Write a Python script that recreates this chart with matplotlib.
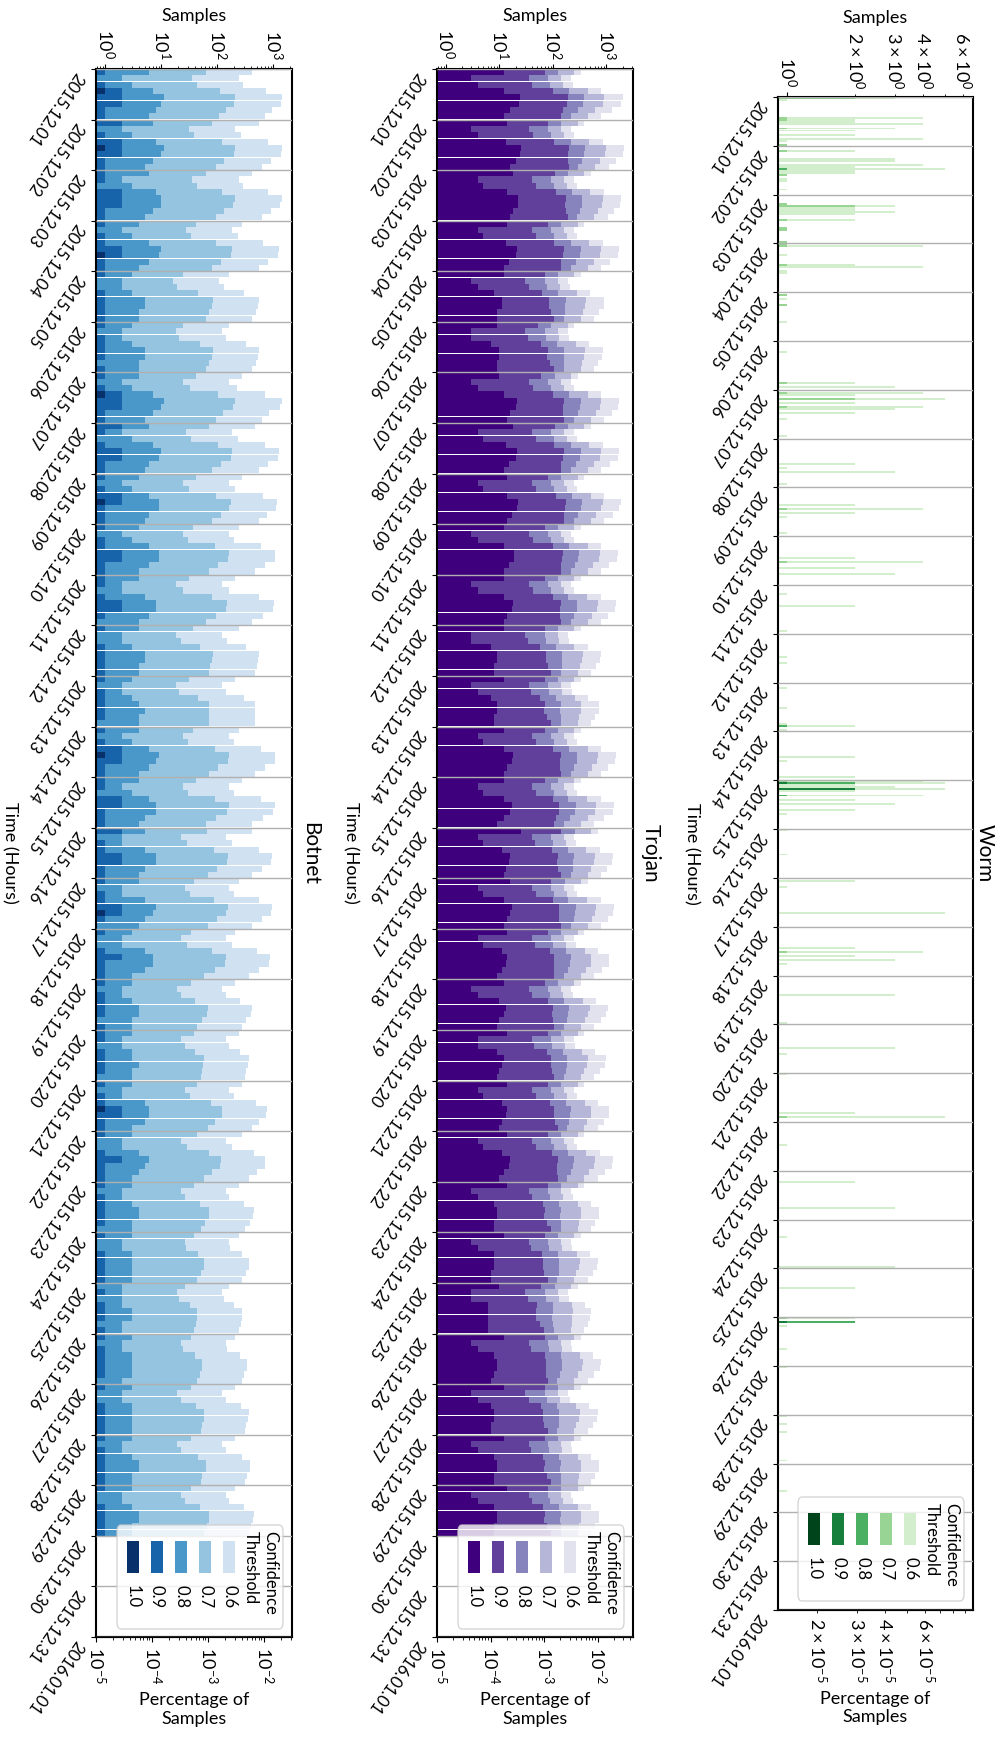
import numpy as np
import matplotlib.pyplot as plt
from matplotlib.patches import Rectangle, FancyBboxPatch
from matplotlib.ticker import LogLocator, NullFormatter

plt.rcParams['font.family'] = ['Lato', 'DejaVu Sans']
plt.rcParams['mathtext.fontset'] = 'dejavusans'
plt.rcParams['font.size'] = 12

W, H = 996, 1742

day_labels = ['2015.12.%02d' % d for d in range(1, 32)] + ['2016.01.01']
thresholds = ['0.6', '0.7', '0.8', '0.9', '1.0']
bin_hours = 3          # botnet / trojan counts are binned per 3 hours
total_samples = 68000  # denominator of the percentage axis

# ---- Botnet, samples per hour (one row per day, 8 bins of 3 h) ----
botnet_06 = [
    417, 240, 290, 750, 1420, 1350, 950, 720,
    550, 210, 260, 800, 1420, 1350, 900, 630,
    417, 240, 290, 800, 1420, 1300, 900, 630,
    275, 183, 230, 650, 1250, 1200, 800, 550,
    160, 105, 130, 300, 550, 530, 480, 417,
    160, 120, 140, 320, 550, 540, 480, 417,
    275, 160, 220, 700, 1420, 1300, 850, 630,
    479, 183, 230, 700, 1250, 1200, 800, 550,
    275, 160, 210, 650, 1170, 1100, 780, 550,
    240, 160, 200, 600, 1090, 1050, 700, 479,
    210, 120, 160, 550, 1020, 980, 650, 417,
    240, 120, 150, 320, 550, 530, 500, 479,
    210, 120, 140, 300, 479, 479, 479, 479,
    240, 160, 200, 600, 1090, 1050, 700, 479,
    275, 160, 200, 600, 1090, 1000, 650, 417,
    417, 140, 180, 550, 950, 920, 620, 417,
    240, 160, 200, 550, 950, 900, 620, 417,
    210, 140, 180, 500, 880, 850, 560, 363,
    210, 120, 140, 250, 417, 400, 330, 275,
    240, 140, 160, 250, 363, 350, 330, 315,
    275, 160, 200, 480, 770, 750, 560, 417,
    275, 140, 180, 450, 720, 700, 500, 363,
    240, 140, 160, 300, 445, 440, 380, 315,
    240, 160, 170, 280, 363, 360, 320, 275,
    160, 120, 130, 200, 275, 270, 260, 240,
    210, 140, 150, 250, 340, 335, 300, 275,
    210, 120, 140, 260, 363, 355, 330, 315,
    210, 120, 140, 280, 390, 385, 340, 315,
    210, 140, 160, 300, 445, 440, 400, 363,
]
botnet_07 = [
    62, 35, 43, 112, 210, 200, 140, 105,
    80, 31, 39, 120, 210, 200, 133, 93,
    62, 35, 43, 120, 210, 193, 133, 93,
    41, 27, 34, 96, 185, 178, 118, 81,
    24, 16, 19, 45, 82, 79, 71, 62,
    24, 18, 21, 48, 82, 80, 71, 62,
    41, 24, 33, 104, 210, 193, 126, 93,
    71, 27, 34, 104, 185, 178, 118, 81,
    41, 24, 31, 96, 173, 163, 115, 81,
    36, 24, 30, 89, 161, 155, 104, 71,
    31, 18, 24, 81, 151, 145, 96, 62,
    36, 18, 22, 48, 82, 79, 74, 71,
    31, 18, 21, 45, 71, 71, 71, 71,
    36, 24, 30, 89, 161, 155, 104, 71,
    41, 24, 30, 89, 161, 148, 96, 62,
    66, 22, 29, 88, 152, 147, 99, 67,
    38, 26, 32, 88, 152, 144, 99, 67,
    34, 22, 29, 80, 141, 136, 90, 58,
    34, 19, 22, 40, 67, 64, 53, 44,
    38, 22, 26, 40, 58, 56, 53, 50,
    44, 26, 32, 77, 123, 120, 90, 67,
    44, 22, 29, 72, 115, 112, 80, 58,
    38, 22, 26, 48, 71, 70, 61, 50,
    38, 26, 27, 45, 58, 58, 51, 44,
    26, 19, 21, 32, 44, 43, 42, 38,
    34, 22, 24, 40, 54, 54, 48, 44,
    34, 19, 22, 42, 58, 57, 53, 50,
    34, 19, 22, 45, 62, 62, 54, 50,
    34, 22, 26, 48, 71, 70, 64, 58,
]
botnet_08 = [
    6, 2, 3, 7, 11, 10, 8, 6,
    7, 2, 3, 8, 11, 10, 7, 5,
    6, 2, 3, 8, 10, 10, 7, 5,
    4, 2, 3, 6, 10, 9, 6, 4,
    3, 2, 2, 3, 5, 5, 4, 4,
    3, 2, 2, 3, 5, 5, 4, 4,
    4, 2, 3, 7, 11, 10, 7, 5,
    6, 2, 3, 7, 10, 9, 6, 5,
    4, 2, 3, 6, 9, 9, 6, 5,
    4, 2, 3, 6, 9, 9, 6, 4,
    4, 2, 2, 5, 8, 8, 6, 4,
    4, 2, 2, 3, 5, 5, 4, 4,
    3, 2, 2, 3, 4, 5, 4, 4,
    4, 2, 3, 6, 9, 8, 6, 4,
    4, 2, 3, 6, 8, 8, 5, 4,
    5, 2, 2, 5, 8, 8, 5, 4,
    4, 2, 2, 5, 8, 7, 5, 4,
    3, 2, 2, 5, 7, 7, 5, 3,
    3, 2, 2, 3, 4, 4, 3, 3,
    3, 2, 2, 3, 3, 4, 3, 3,
    3, 2, 2, 5, 6, 6, 5, 3,
    3, 2, 2, 4, 6, 5, 4, 3,
    3, 2, 2, 3, 4, 4, 3, 3,
    3, 2, 2, 3, 3, 3, 3, 3,
    2, 2, 2, 2, 3, 3, 2, 2,
    3, 2, 2, 3, 3, 3, 3, 2,
    3, 2, 2, 3, 3, 3, 3, 3,
    3, 2, 2, 3, 4, 4, 3, 3,
    3, 2, 2, 3, 4, 4, 3, 3,
]
botnet_09 = [
    1, 0, 1, 2, 2, 2, 1, 1,
    2, 0, 1, 2, 2, 2, 1, 1,
    1, 1, 0, 2, 2, 2, 1, 1,
    1, 0, 1, 1, 2, 2, 1, 1,
    1, 0, 0, 1, 1, 1, 1, 1,
    1, 0, 1, 1, 1, 1, 0, 1,
    1, 0, 1, 2, 2, 2, 1, 1,
    2, 1, 0, 1, 2, 2, 1, 1,
    1, 0, 1, 2, 2, 1, 1, 1,
    1, 0, 1, 1, 2, 2, 1, 1,
    1, 1, 0, 1, 2, 2, 1, 0,
    1, 0, 0, 1, 1, 1, 1, 1,
    1, 0, 1, 1, 1, 1, 1, 0,
    1, 0, 1, 2, 2, 2, 1, 1,
    1, 1, 0, 2, 2, 1, 1, 1,
    2, 0, 1, 1, 2, 2, 1, 1,
    1, 0, 1, 1, 2, 2, 1, 0,
    1, 0, 0, 1, 2, 1, 1, 1,
    1, 0, 1, 1, 1, 1, 0, 1,
    1, 1, 0, 1, 1, 1, 1, 0,
    1, 0, 1, 1, 2, 2, 1, 1,
    1, 0, 0, 1, 2, 1, 1, 1,
    1, 0, 1, 1, 1, 1, 1, 0,
    1, 0, 0, 1, 1, 1, 1, 1,
    0, 1, 0, 1, 1, 1, 0, 1,
    1, 0, 1, 1, 1, 1, 1, 0,
    1, 0, 0, 1, 1, 1, 1, 1,
    1, 0, 1, 1, 1, 1, 1, 1,
    1, 0, 0, 1, 1, 1, 1, 1,
]
botnet_10 = [
    0, 0, 0, 1, 0, 0, 0, 0,
    0, 0, 0, 0, 1, 0, 0, 0,
    0, 0, 0, 0, 0, 0, 0, 0,
    0, 0, 0, 0, 0, 1, 0, 0,
    0, 0, 0, 0, 0, 0, 0, 0,
    0, 0, 0, 0, 0, 0, 0, 0,
    0, 0, 0, 1, 0, 0, 0, 0,
    0, 0, 0, 0, 0, 0, 0, 0,
    0, 0, 0, 0, 1, 0, 0, 0,
    0, 0, 0, 0, 0, 0, 0, 0,
    0, 0, 0, 0, 0, 0, 0, 0,
    0, 0, 0, 0, 0, 0, 0, 0,
    0, 0, 0, 0, 0, 0, 0, 0,
    0, 0, 0, 0, 1, 0, 0, 0,
    0, 0, 0, 0, 0, 0, 0, 0,
    0, 0, 0, 0, 0, 0, 0, 0,
    0, 0, 0, 0, 0, 1, 0, 0,
    0, 0, 0, 0, 0, 0, 0, 0,
    0, 0, 0, 0, 0, 0, 0, 0,
    0, 0, 0, 0, 0, 0, 0, 0,
    0, 0, 0, 0, 1, 0, 0, 0,
    0, 0, 0, 0, 0, 0, 0, 0,
    0, 0, 0, 0, 0, 0, 0, 0,
    0, 0, 0, 0, 0, 0, 0, 0,
    0, 0, 0, 0, 0, 0, 0, 0,
    0, 0, 0, 0, 0, 0, 0, 0,
    0, 0, 0, 0, 0, 0, 0, 0,
    0, 0, 0, 0, 0, 0, 0, 0,
    0, 0, 0, 0, 0, 0, 0, 0,
]

# ---- Trojan ----
trojan_06 = [
    333, 217, 240, 800, 2000, 1900, 1250, 790,
    386, 217, 250, 850, 2100, 2000, 1500, 1100,
    514, 251, 280, 900, 1860, 1800, 1400, 1050,
    386, 251, 280, 850, 1740, 1650, 1150, 790,
    333, 188, 210, 500, 910, 880, 730, 590,
    251, 188, 200, 480, 850, 830, 700, 590,
    290, 217, 250, 800, 1740, 1650, 1250, 910,
    514, 251, 280, 850, 1740, 1650, 1150, 790,
    386, 251, 280, 900, 1860, 1750, 1300, 910,
    333, 217, 250, 800, 1620, 1550, 1130, 790,
    333, 217, 250, 780, 1500, 1450, 1090, 790,
    333, 188, 200, 450, 790, 770, 640, 514,
    333, 217, 230, 460, 740, 720, 620, 514,
    333, 251, 280, 800, 1500, 1450, 1090, 790,
    333, 251, 280, 780, 1400, 1350, 910, 590,
    688, 251, 270, 750, 1300, 1250, 1010, 790,
    445, 251, 280, 780, 1400, 1350, 1050, 790,
    386, 251, 270, 700, 1130, 1100, 820, 590,
    333, 217, 240, 650, 1050, 1000, 790, 590,
    386, 251, 260, 620, 980, 950, 760, 590,
    386, 251, 280, 700, 1130, 1100, 880, 688,
    386, 251, 280, 750, 1300, 1250, 950, 688,
    386, 217, 240, 520, 740, 720, 620, 514,
    333, 217, 230, 500, 688, 670, 550, 445,
    290, 188, 200, 400, 514, 500, 445, 386,
    333, 217, 230, 560, 790, 770, 590, 445,
    333, 188, 210, 480, 688, 670, 550, 445,
    333, 217, 230, 520, 740, 720, 620, 514,
    386, 217, 240, 520, 740, 720, 620, 514,
]
trojan_07 = [
    251, 140, 155, 450, 910, 870, 620, 445,
    290, 140, 160, 480, 970, 920, 750, 620,
    385, 163, 180, 500, 860, 830, 700, 590,
    290, 163, 180, 480, 800, 760, 575, 445,
    250, 122, 136, 280, 420, 405, 365, 330,
    188, 122, 130, 270, 390, 380, 350, 330,
    218, 141, 162, 450, 800, 760, 625, 510,
    385, 163, 182, 476, 800, 760, 575, 445,
    290, 163, 182, 504, 855, 805, 650, 510,
    250, 141, 162, 448, 745, 713, 565, 445,
    250, 141, 162, 437, 690, 667, 545, 445,
    250, 122, 130, 252, 363, 354, 320, 288,
    250, 141, 150, 258, 340, 331, 310, 288,
    250, 163, 182, 448, 690, 667, 545, 445,
    250, 163, 182, 437, 644, 621, 455, 330,
    516, 163, 175, 420, 598, 575, 505, 445,
    334, 163, 182, 437, 644, 621, 525, 445,
    290, 163, 175, 392, 520, 506, 410, 330,
    250, 141, 156, 364, 483, 460, 395, 330,
    290, 163, 169, 347, 451, 437, 380, 330,
    290, 163, 182, 392, 520, 506, 440, 385,
    290, 163, 182, 420, 598, 575, 475, 385,
    290, 141, 156, 291, 340, 331, 310, 288,
    250, 141, 150, 280, 316, 308, 275, 250,
    218, 122, 130, 224, 236, 230, 222, 216,
    250, 141, 150, 314, 363, 354, 295, 250,
    250, 122, 137, 269, 316, 308, 275, 250,
    250, 141, 150, 291, 340, 331, 310, 288,
    290, 141, 156, 291, 340, 331, 310, 288,
]
trojan_08 = [
    123, 80, 89, 200, 380, 360, 288, 213,
    143, 80, 93, 213, 400, 380, 345, 297,
    190, 93, 104, 225, 353, 342, 322, 284,
    143, 93, 104, 213, 331, 314, 265, 213,
    123, 70, 78, 125, 173, 167, 168, 159,
    93, 70, 74, 120, 162, 158, 161, 159,
    107, 80, 93, 200, 331, 314, 288, 246,
    190, 93, 104, 213, 331, 314, 265, 213,
    143, 93, 104, 225, 353, 333, 299, 246,
    123, 80, 93, 200, 308, 295, 260, 213,
    123, 80, 93, 195, 285, 276, 251, 213,
    123, 70, 74, 113, 150, 146, 147, 139,
    123, 80, 85, 115, 141, 137, 143, 139,
    123, 93, 104, 200, 285, 276, 251, 213,
    123, 93, 104, 195, 266, 257, 209, 159,
    255, 93, 100, 188, 247, 238, 232, 213,
    165, 93, 104, 195, 266, 257, 242, 213,
    143, 93, 100, 175, 215, 209, 189, 159,
    123, 80, 89, 163, 200, 190, 182, 159,
    143, 93, 96, 155, 186, 181, 175, 159,
    143, 93, 104, 175, 215, 209, 202, 186,
    143, 93, 104, 188, 247, 238, 219, 186,
    143, 80, 89, 130, 141, 137, 143, 139,
    123, 80, 85, 125, 131, 127, 127, 120,
    107, 70, 74, 100, 98, 95, 102, 104,
    123, 80, 85, 140, 150, 146, 136, 120,
    123, 70, 78, 120, 131, 127, 127, 120,
    123, 80, 85, 130, 141, 137, 143, 139,
    143, 80, 89, 130, 141, 137, 143, 139,
]
trojan_09 = [
    70, 35, 41, 100, 188, 180, 156, 142,
    81, 35, 43, 106, 197, 190, 188, 198,
    108, 40, 48, 113, 175, 171, 175, 189,
    81, 40, 48, 106, 164, 157, 144, 142,
    70, 30, 36, 63, 86, 84, 91, 106,
    53, 30, 34, 60, 80, 79, 88, 106,
    61, 35, 43, 100, 164, 157, 156, 164,
    108, 40, 48, 106, 164, 157, 144, 142,
    81, 40, 48, 113, 175, 166, 163, 164,
    70, 35, 43, 100, 152, 147, 141, 142,
    70, 35, 43, 98, 141, 138, 136, 142,
    70, 30, 34, 56, 74, 73, 80, 93,
    70, 35, 39, 58, 70, 68, 78, 93,
    70, 40, 48, 100, 141, 138, 136, 142,
    70, 40, 48, 98, 132, 128, 114, 106,
    144, 40, 46, 94, 122, 119, 126, 142,
    93, 40, 48, 98, 132, 128, 131, 142,
    81, 40, 46, 88, 106, 105, 103, 106,
    70, 35, 41, 81, 99, 95, 99, 106,
    81, 40, 44, 78, 92, 90, 95, 106,
    81, 40, 48, 88, 106, 105, 110, 124,
    81, 40, 48, 94, 122, 119, 119, 124,
    81, 35, 41, 65, 70, 68, 78, 93,
    70, 35, 39, 63, 65, 64, 69, 80,
    61, 30, 34, 50, 48, 48, 56, 69,
    70, 35, 39, 70, 74, 73, 74, 80,
    70, 30, 36, 60, 65, 64, 69, 80,
    70, 35, 39, 65, 70, 68, 78, 93,
    81, 35, 41, 65, 70, 68, 78, 93,
]
trojan_10 = [
    12, 3, 4, 12, 24, 23, 16, 12,
    14, 3, 4, 13, 25, 24, 20, 16,
    18, 4, 5, 14, 22, 22, 18, 16,
    14, 4, 5, 13, 21, 20, 15, 12,
    12, 3, 4, 8, 11, 11, 9, 9,
    9, 3, 3, 7, 10, 10, 9, 9,
    10, 3, 4, 12, 21, 20, 16, 14,
    18, 4, 5, 13, 21, 20, 15, 12,
    14, 4, 5, 14, 22, 21, 17, 14,
    12, 3, 4, 12, 19, 19, 15, 12,
    12, 3, 4, 12, 18, 17, 14, 12,
    12, 3, 3, 7, 9, 9, 8, 8,
    12, 3, 4, 7, 9, 9, 8, 8,
    12, 4, 5, 12, 18, 17, 14, 12,
    12, 4, 5, 12, 17, 16, 12, 9,
    25, 4, 5, 11, 16, 15, 13, 12,
    16, 4, 5, 12, 17, 16, 14, 12,
    14, 4, 5, 11, 14, 13, 11, 9,
    12, 3, 4, 10, 13, 12, 10, 9,
    14, 4, 4, 9, 12, 11, 10, 9,
    14, 4, 5, 11, 14, 13, 11, 10,
    14, 4, 5, 11, 16, 15, 12, 10,
    14, 3, 4, 8, 9, 9, 8, 8,
    12, 3, 4, 8, 8, 8, 7, 7,
    10, 3, 3, 6, 6, 6, 6, 6,
    12, 3, 4, 8, 9, 9, 8, 7,
    12, 3, 4, 7, 8, 8, 7, 7,
    12, 3, 4, 8, 9, 9, 8, 8,
    14, 3, 4, 8, 9, 9, 8, 8,
]

# ---- Worm, sparse hourly counts (hour since 2015.12.01 00:00, count) ----
worm_hours_06 = [0, 1, 10, 11, 12, 13, 15, 16, 18, 20, 21, 23, 26, 30, 31, 33, 34, 35, 36, 37,
                 38, 40, 41, 45, 52, 53, 54, 55, 56, 57, 60, 64, 65, 71, 72, 73, 77, 82, 83, 85,
                 86, 97, 99, 102, 110, 125, 140, 142, 145, 146, 148, 150, 152, 153, 155, 158, 166,
                 180, 182, 184, 190, 200, 202, 204, 206, 214, 226, 228, 231, 234, 244, 250, 262,
                 275, 278, 290, 300, 308, 309, 311, 324, 326, 334, 336, 337, 338, 339, 340, 341,
                 343, 345, 347, 350, 352, 360, 372, 385, 388, 401, 418, 420, 422, 424, 426, 441,
                 455, 467, 470, 480, 499, 501, 515, 533, 546, 560, 575, 585, 600, 602, 604, 615,
                 624, 648, 652, 656, 670, 685]
worm_06 = [3, 1, 4, 2, 2, 4, 3, 2, 2, 4, 1, 1, 2, 3, 3, 4, 2, 5, 2, 2,
           1, 1, 1, 1, 1, 3, 2, 2, 3, 2, 2, 1, 1, 1, 1, 4, 1, 2, 4, 1,
           1, 1, 1, 1, 1, 1, 2, 3, 4, 2, 5, 2, 4, 3, 2, 1, 1,
           2, 1, 3, 1, 2, 4, 2, 1, 1, 2, 4, 2, 3, 1, 2, 1,
           1, 1, 1, 1, 1, 2, 1, 2, 1, 2, 4, 5, 2, 3, 5, 2,
           4, 2, 3, 2, 1, 1, 1, 2, 1, 5, 2, 4, 2, 3, 1, 3,
           1, 3, 1, 1, 2, 5, 1, 2, 3, 1, 3, 2, 2, 2, 1, 1,
           1, 1, 1, 1, 1, 1]
worm_hours_07 = [0, 10, 11, 15, 23, 26, 35, 38, 52, 53, 60, 64, 65, 71, 72, 73, 82, 97, 102,
                 140, 145, 148, 152, 202, 228, 309, 336, 337, 340, 343, 420, 501, 600, 602]
worm_07 = [2, 1, 1, 1, 1, 1, 1, 1, 1, 2, 1, 1, 1, 1, 1, 1, 1, 1, 1,
           1, 1, 2, 1, 1, 1, 1, 1, 2, 2, 1, 1, 1, 1, 2]
worm_hours_08 = [35, 309, 337, 340, 343, 602]
worm_08 = [1, 1, 2, 2, 1, 2]
worm_hours_09 = [337, 340, 602]
worm_09 = [1, 2, 1]


def to_fig(px, py):
    return px / W, 1 - py / H


def draw_bars(ax, series, starts, height, colors):
    for vals, color in zip(series, colors):
        vals = np.asarray(vals, dtype=float)
        starts = np.asarray(starts, dtype=float)
        keep = vals > 0
        ax.barh(starts[keep], vals[keep], height=height, align='edge',
                color=color, linewidth=0)


def style_panel(ax, title, xlim, title_pad=8, every_decade=True):
    ax.set_xscale('log')
    ax.set_xlim(*xlim)
    ax.set_ylim(744, 0)
    ax.set_yticks(np.arange(0, 745, 24))
    ax.set_yticklabels(day_labels, rotation=-125, ha='right', va='top', fontsize=12)
    ax.xaxis.tick_top()
    ax.xaxis.set_label_position('top')
    ax.set_xlabel('Samples', fontsize=13, labelpad=6)
    ax.tick_params(axis='x', which='both', labelrotation=-90, labelsize=13)
    ax.grid(axis='y', color='#b0b0b0', linewidth=1.0)
    ax.set_axisbelow(False)
    for sp in ax.spines.values():
        sp.set_linewidth(1.5)
    sec = ax.secondary_xaxis('bottom', functions=(lambda x: x / total_samples,
                                                  lambda p: p * total_samples))
    if every_decade:
        for axis in (ax.xaxis, sec.xaxis):
            axis.set_major_locator(LogLocator(base=10, numticks=20))
            axis.set_minor_locator(LogLocator(base=10, subs=np.arange(2, 10), numticks=20))
            axis.set_minor_formatter(NullFormatter())
    sec.tick_params(axis='x', which='both', labelrotation=-90, labelsize=13)
    sec.spines['bottom'].set_linewidth(1.5)
    sec.set_xlabel('Percentage of\nSamples', fontsize=13, labelpad=6)
    ax.annotate(title, xy=(1, 0.5), xycoords='axes fraction', xytext=(title_pad, 0),
                textcoords='offset pixels', rotation=-90, ha='left', va='center',
                fontsize=15)
    ax.annotate('Time (Hours)', xy=(0, 0.5), xycoords='axes fraction', xytext=(-86, 0),
                textcoords='offset pixels', rotation=-90, ha='center', va='center',
                fontsize=13)


def draw_legend(fig, bx, by, colors):
    # legend laid out sideways: entries run left to right, darkest first
    bw, bh = 166, 104
    x0, y0 = to_fig(bx, by + bh)
    fig.add_artist(FancyBboxPatch((x0, y0), bw / W, bh / H,
                                  boxstyle='round,pad=0,rounding_size=0.004',
                                  transform=fig.transFigure, facecolor='white',
                                  edgecolor='#cccccc', alpha=0.8, linewidth=1, zorder=5))
    for i, (lab, col) in enumerate(zip(thresholds[::-1], colors[::-1])):
        px = bx + 10 + 24 * i
        rx, ry = to_fig(px, by + 48)
        fig.add_artist(Rectangle((rx, ry), 12 / W, 32 / H, transform=fig.transFigure,
                                 facecolor=col, linewidth=0, zorder=6))
        tx, ty = to_fig(px + 6, by + 60)
        fig.text(tx, ty, lab, rotation=-90, ha='center', va='top', fontsize=12, zorder=7)
    for dx, line in [(13, 'Confidence'), (32, 'Threshold')]:
        tx, ty = to_fig(bx + bw - dx, by + 6)
        fig.text(tx, ty, line, rotation=-90, ha='center', va='top', fontsize=12, zorder=7)


fig = plt.figure(figsize=(W / 100, H / 100), dpi=100)

ax_b = fig.add_axes([96 / W, 1 - 1637 / H, 196 / W, 1568 / H])
ax_t = fig.add_axes([437 / W, 1 - 1637 / H, 196 / W, 1568 / H])
ax_w = fig.add_axes([778 / W, 1 - 1610 / H, 195 / W, 1513 / H])

blues = plt.cm.Blues(np.linspace(0.2, 1.0, 5))
purples = plt.cm.Purples(np.linspace(0.2, 1.0, 5))
greens = plt.cm.Greens(np.linspace(0.2, 1.0, 5))

bin_starts = np.arange(len(botnet_06)) * bin_hours

for ax in (ax_b, ax_t, ax_w):
    ax.set_xscale('log')

draw_bars(ax_b, [botnet_06, botnet_07, botnet_08, botnet_09, botnet_10],
          bin_starts, bin_hours * 0.96, blues)
draw_bars(ax_t, [trojan_06, trojan_07, trojan_08, trojan_09, trojan_10],
          bin_starts, bin_hours * 0.96, purples)
for hrs, vals, col in zip([worm_hours_06, worm_hours_07, worm_hours_08, worm_hours_09],
                          [worm_06, worm_07, worm_08, worm_09], greens):
    draw_bars(ax_w, [vals], hrs, 0.96, [col])

style_panel(ax_b, 'Botnet', (0.68, 2150))
style_panel(ax_t, 'Trojan', (0.68, 3130))
style_panel(ax_w, 'Worm', (0.912, 6.65), title_pad=2, every_decade=False)

draw_legend(fig, 117, 1525, blues)
draw_legend(fig, 458, 1525, purples)
draw_legend(fig, 798, 1497, greens)

fig.savefig('out.png', dpi=100)
